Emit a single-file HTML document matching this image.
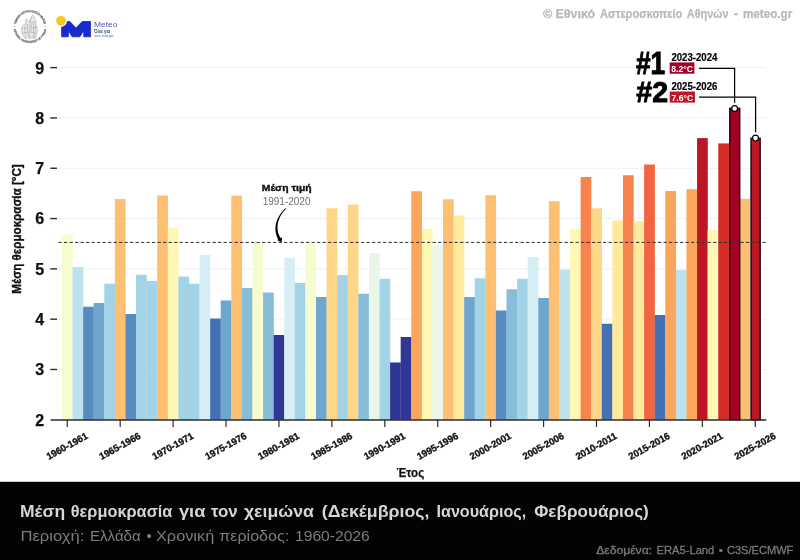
<!DOCTYPE html>
<html lang="el"><head><meta charset="utf-8"><title>Μέση θερμοκρασία χειμώνα</title>
<style>
html,body{margin:0;padding:0;background:#fff;}
body{width:800px;height:560px;overflow:hidden;font-family:"Liberation Sans",sans-serif;}
svg{display:block;font-family:"Liberation Sans",sans-serif;}
</style></head><body>
<svg width="800" height="560" viewBox="0 0 800 560" style="mix-blend-mode:multiply">
<rect x="0" y="0" width="800" height="560" fill="#ffffff"/>

<g stroke="#efefef" stroke-width="1">
<line x1="58" y1="369.49" x2="766" y2="369.49"/>
<line x1="58" y1="319.18" x2="766" y2="319.18"/>
<line x1="58" y1="268.87" x2="766" y2="268.87"/>
<line x1="58" y1="218.56" x2="766" y2="218.56"/>
<line x1="58" y1="168.25" x2="766" y2="168.25"/>
<line x1="58" y1="117.94" x2="766" y2="117.94"/>
<line x1="58" y1="67.63" x2="766" y2="67.63"/>
</g>
<g shape-rendering="auto">
<rect x="61.96" y="234.50" width="10.74" height="185.30" fill="#f7fcce"/>
<rect x="72.54" y="267.00" width="10.74" height="152.80" fill="#bde2ee"/>
<rect x="83.13" y="306.75" width="10.74" height="113.05" fill="#588cc0"/>
<rect x="93.71" y="303.00" width="10.74" height="116.80" fill="#6ea6ce"/>
<rect x="104.30" y="283.75" width="10.74" height="136.05" fill="#a3d3e6"/>
<rect x="114.88" y="199.00" width="10.74" height="220.80" fill="#fdbf71"/>
<rect x="125.47" y="314.00" width="10.74" height="105.80" fill="#588cc0"/>
<rect x="136.05" y="274.75" width="10.74" height="145.05" fill="#a3d3e6"/>
<rect x="146.64" y="281.00" width="10.74" height="138.80" fill="#a3d3e6"/>
<rect x="157.22" y="195.50" width="10.74" height="224.30" fill="#fdbf71"/>
<rect x="167.81" y="227.50" width="10.74" height="192.30" fill="#fff7b3"/>
<rect x="178.39" y="276.50" width="10.74" height="143.30" fill="#a3d3e6"/>
<rect x="188.98" y="283.75" width="10.74" height="136.05" fill="#a3d3e6"/>
<rect x="199.56" y="255.00" width="10.74" height="164.80" fill="#d6eef5"/>
<rect x="210.15" y="318.50" width="10.74" height="101.30" fill="#4471b2"/>
<rect x="220.73" y="300.50" width="10.74" height="119.30" fill="#6ea6ce"/>
<rect x="231.32" y="195.60" width="10.74" height="224.20" fill="#fdbf71"/>
<rect x="241.90" y="288.00" width="10.74" height="131.80" fill="#87bdd9"/>
<rect x="252.49" y="242.50" width="10.74" height="177.30" fill="#f7fcce"/>
<rect x="263.07" y="292.50" width="10.74" height="127.30" fill="#87bdd9"/>
<rect x="273.66" y="335.00" width="10.74" height="84.80" fill="#313695"/>
<rect x="284.24" y="258.00" width="10.74" height="161.80" fill="#d6eef5"/>
<rect x="294.83" y="283.00" width="10.74" height="136.80" fill="#a3d3e6"/>
<rect x="305.41" y="243.50" width="10.74" height="176.30" fill="#f7fcce"/>
<rect x="316.00" y="297.00" width="10.74" height="122.80" fill="#6ea6ce"/>
<rect x="326.58" y="208.25" width="10.74" height="211.55" fill="#fed687"/>
<rect x="337.17" y="275.00" width="10.74" height="144.80" fill="#a3d3e6"/>
<rect x="347.75" y="204.50" width="10.74" height="215.30" fill="#fed687"/>
<rect x="358.34" y="293.75" width="10.74" height="126.05" fill="#87bdd9"/>
<rect x="368.92" y="253.00" width="10.74" height="166.80" fill="#e9f6e8"/>
<rect x="379.51" y="278.75" width="10.74" height="141.05" fill="#a3d3e6"/>
<rect x="390.09" y="362.50" width="10.74" height="57.30" fill="#313695"/>
<rect x="400.68" y="337.00" width="10.74" height="82.80" fill="#313695"/>
<rect x="411.26" y="191.25" width="10.74" height="228.55" fill="#fca55d"/>
<rect x="421.85" y="228.75" width="10.74" height="191.05" fill="#fff7b3"/>
<rect x="432.43" y="245.00" width="10.74" height="174.80" fill="#e9f6e8"/>
<rect x="443.02" y="199.25" width="10.74" height="220.55" fill="#fdbf71"/>
<rect x="453.60" y="215.50" width="10.74" height="204.30" fill="#fee99d"/>
<rect x="464.19" y="297.00" width="10.74" height="122.80" fill="#6ea6ce"/>
<rect x="474.77" y="278.25" width="10.74" height="141.55" fill="#a3d3e6"/>
<rect x="485.36" y="195.25" width="10.74" height="224.55" fill="#fdbf71"/>
<rect x="495.94" y="310.50" width="10.74" height="109.30" fill="#588cc0"/>
<rect x="506.53" y="289.25" width="10.74" height="130.55" fill="#87bdd9"/>
<rect x="517.11" y="278.75" width="10.74" height="141.05" fill="#a3d3e6"/>
<rect x="527.70" y="257.00" width="10.74" height="162.80" fill="#d6eef5"/>
<rect x="538.28" y="298.00" width="10.74" height="121.80" fill="#6ea6ce"/>
<rect x="548.87" y="201.25" width="10.74" height="218.55" fill="#fdbf71"/>
<rect x="559.45" y="269.50" width="10.74" height="150.30" fill="#bde2ee"/>
<rect x="570.04" y="229.25" width="10.74" height="190.55" fill="#fff7b3"/>
<rect x="580.62" y="177.00" width="10.74" height="242.80" fill="#f7844e"/>
<rect x="591.21" y="208.25" width="10.74" height="211.55" fill="#fed687"/>
<rect x="601.79" y="323.75" width="10.74" height="96.05" fill="#4471b2"/>
<rect x="612.38" y="220.50" width="10.74" height="199.30" fill="#fee99d"/>
<rect x="622.96" y="175.25" width="10.74" height="244.55" fill="#f7844e"/>
<rect x="633.55" y="221.25" width="10.74" height="198.55" fill="#fee99d"/>
<rect x="644.13" y="164.50" width="10.74" height="255.30" fill="#f16640"/>
<rect x="654.72" y="315.00" width="10.74" height="104.80" fill="#4471b2"/>
<rect x="665.30" y="191.00" width="10.74" height="228.80" fill="#fca55d"/>
<rect x="675.89" y="270.00" width="10.74" height="149.80" fill="#bde2ee"/>
<rect x="686.47" y="189.25" width="10.74" height="230.55" fill="#fca55d"/>
<rect x="697.06" y="138.10" width="10.74" height="281.70" fill="#bd1726"/>
<rect x="707.64" y="230.00" width="10.74" height="189.80" fill="#fff7b3"/>
<rect x="718.23" y="143.40" width="10.74" height="276.40" fill="#d42d27"/>
<rect x="739.40" y="198.75" width="10.74" height="221.05" fill="#fdbf71"/>
<rect x="729.76" y="108.30" width="9.99" height="311.50" fill="#a50026" stroke="#1c0008" stroke-width="1.35"/>
<rect x="751.03" y="138.20" width="9.14" height="281.60" fill="#bd1726" stroke="#1c0008" stroke-width="1.35"/>
</g>
<line x1="58.5" y1="242.4" x2="766" y2="242.4" stroke="#2e2e2e" stroke-width="1" stroke-dasharray="3.3 2.2"/>
<g stroke="#2b2b2b" fill="none">
<line x1="50.6" y1="419.90" x2="766.3" y2="419.90" stroke-width="1.5"/>
<line x1="67.25" y1="419.80" x2="67.25" y2="427.00" stroke-width="1.2"/>
<line x1="120.18" y1="419.80" x2="120.18" y2="427.00" stroke-width="1.2"/>
<line x1="173.10" y1="419.80" x2="173.10" y2="427.00" stroke-width="1.2"/>
<line x1="226.03" y1="419.80" x2="226.03" y2="427.00" stroke-width="1.2"/>
<line x1="278.95" y1="419.80" x2="278.95" y2="427.00" stroke-width="1.2"/>
<line x1="331.88" y1="419.80" x2="331.88" y2="427.00" stroke-width="1.2"/>
<line x1="384.80" y1="419.80" x2="384.80" y2="427.00" stroke-width="1.2"/>
<line x1="437.73" y1="419.80" x2="437.73" y2="427.00" stroke-width="1.2"/>
<line x1="490.65" y1="419.80" x2="490.65" y2="427.00" stroke-width="1.2"/>
<line x1="543.58" y1="419.80" x2="543.58" y2="427.00" stroke-width="1.2"/>
<line x1="596.50" y1="419.80" x2="596.50" y2="427.00" stroke-width="1.2"/>
<line x1="649.43" y1="419.80" x2="649.43" y2="427.00" stroke-width="1.2"/>
<line x1="702.35" y1="419.80" x2="702.35" y2="427.00" stroke-width="1.2"/>
<line x1="755.28" y1="419.80" x2="755.28" y2="427.00" stroke-width="1.2"/>
<line x1="50.3" y1="369.49" x2="57" y2="369.49" stroke-width="1.4"/>
<line x1="50.3" y1="319.18" x2="57" y2="319.18" stroke-width="1.4"/>
<line x1="50.3" y1="268.87" x2="57" y2="268.87" stroke-width="1.4"/>
<line x1="50.3" y1="218.56" x2="57" y2="218.56" stroke-width="1.4"/>
<line x1="50.3" y1="168.25" x2="57" y2="168.25" stroke-width="1.4"/>
<line x1="50.3" y1="117.94" x2="57" y2="117.94" stroke-width="1.4"/>
<line x1="50.3" y1="67.63" x2="57" y2="67.63" stroke-width="1.4"/>
</g>
<g font-weight="bold" font-size="16px" fill="#111" stroke="#111" stroke-width="0.25" text-anchor="middle">
<text x="39.8" y="425.70">2</text>
<text x="39.8" y="375.39">3</text>
<text x="39.8" y="325.08">4</text>
<text x="39.8" y="274.77">5</text>
<text x="39.8" y="224.46">6</text>
<text x="39.8" y="174.15">7</text>
<text x="39.8" y="123.84">8</text>
<text x="39.8" y="73.53">9</text>
</g>
<g font-weight="bold" font-size="9.7px" fill="#111" stroke="#111" stroke-width="0.35" text-anchor="middle">
<text transform="translate(66.95,446) rotate(-29)" x="0" y="3.4" textLength="45.6" lengthAdjust="spacingAndGlyphs">1960-1961</text>
<text transform="translate(119.88,446) rotate(-29)" x="0" y="3.4" textLength="45.6" lengthAdjust="spacingAndGlyphs">1965-1966</text>
<text transform="translate(172.80,446) rotate(-29)" x="0" y="3.4" textLength="45.6" lengthAdjust="spacingAndGlyphs">1970-1971</text>
<text transform="translate(225.72,446) rotate(-29)" x="0" y="3.4" textLength="45.6" lengthAdjust="spacingAndGlyphs">1975-1976</text>
<text transform="translate(278.65,446) rotate(-29)" x="0" y="3.4" textLength="45.6" lengthAdjust="spacingAndGlyphs">1980-1981</text>
<text transform="translate(331.57,446) rotate(-29)" x="0" y="3.4" textLength="45.6" lengthAdjust="spacingAndGlyphs">1985-1986</text>
<text transform="translate(384.50,446) rotate(-29)" x="0" y="3.4" textLength="45.6" lengthAdjust="spacingAndGlyphs">1990-1991</text>
<text transform="translate(437.43,446) rotate(-29)" x="0" y="3.4" textLength="45.6" lengthAdjust="spacingAndGlyphs">1995-1996</text>
<text transform="translate(490.35,446) rotate(-29)" x="0" y="3.4" textLength="45.6" lengthAdjust="spacingAndGlyphs">2000-2001</text>
<text transform="translate(543.28,446) rotate(-29)" x="0" y="3.4" textLength="45.6" lengthAdjust="spacingAndGlyphs">2005-2006</text>
<text transform="translate(596.20,446) rotate(-29)" x="0" y="3.4" textLength="45.6" lengthAdjust="spacingAndGlyphs">2010-2011</text>
<text transform="translate(649.13,446) rotate(-29)" x="0" y="3.4" textLength="45.6" lengthAdjust="spacingAndGlyphs">2015-2016</text>
<text transform="translate(702.05,446) rotate(-29)" x="0" y="3.4" textLength="45.6" lengthAdjust="spacingAndGlyphs">2020-2021</text>
<text transform="translate(754.98,446) rotate(-29)" x="0" y="3.4" textLength="45.6" lengthAdjust="spacingAndGlyphs">2025-2026</text>
</g>
<text x="396.4" y="477.0" font-weight="bold" font-size="12.3px" fill="#111" stroke="#111" stroke-width="0.25" textLength="27.8" lengthAdjust="spacingAndGlyphs">Έτος</text>
<text transform="translate(20.7,229.0) rotate(-90)" font-weight="bold" font-size="12.3px" stroke="#111" stroke-width="0.35" fill="#111" text-anchor="middle" textLength="129.4" lengthAdjust="spacingAndGlyphs">Μέση θερμοκρασία [°C]</text>
<text x="286.7" y="190.9" font-weight="bold" font-size="9.6px" fill="#111" stroke="#111" stroke-width="0.4" text-anchor="middle" textLength="49.8" lengthAdjust="spacingAndGlyphs">Μέση τιμή</text>
<text x="286.6" y="204.6" font-size="10px" fill="#6c6c6c" text-anchor="middle">1991-2020</text>
<path d="M285.77 208.14 L284.68 209.10 L283.63 210.11 L282.63 211.18 L281.67 212.30 L280.77 213.46 L279.92 214.68 L279.13 215.93 L278.40 217.23 L277.75 218.56 L277.16 219.92 L276.65 221.32 L276.22 222.75 L275.88 224.20 L275.63 225.68 L275.47 227.18 L275.42 228.69 L275.47 230.22 L275.63 231.76 L275.90 233.31 L276.29 234.86 L276.81 236.41 L277.46 237.95 L278.23 239.48 L279.15 240.99 L281.45 239.41 L280.57 238.10 L279.81 236.78 L279.16 235.45 L278.62 234.11 L278.19 232.75 L277.87 231.39 L277.64 230.01 L277.52 228.64 L277.48 227.26 L277.54 225.89 L277.69 224.52 L277.93 223.15 L278.24 221.80 L278.64 220.46 L279.12 219.14 L279.66 217.84 L280.28 216.57 L280.96 215.32 L281.71 214.11 L282.51 212.94 L283.37 211.80 L284.28 210.71 L285.23 209.66 L286.23 208.66 Z" fill="#000"/>
<path d="M281.5 242.6 L277.2 239.9 L282.2 237.2 Z" fill="#000"/>
<g fill="none" stroke="#000" stroke-width="1.25">
<path d="M699 68.4 H734.6 V102.8"/>
<path d="M699 97 H755.6 V132.3"/>
</g>
<circle cx="734.6" cy="108.5" r="2.9" fill="#fff" stroke="#000" stroke-width="1.2"/>
<circle cx="755.5" cy="138.1" r="2.9" fill="#fff" stroke="#000" stroke-width="1.2"/>
<g font-weight="bold" fill="#000">
<text x="636" y="73.5" font-size="31px" stroke="#000" stroke-width="0.9" textLength="29.2" lengthAdjust="spacingAndGlyphs">#1</text>
<text x="636.3" y="102.2" font-size="30.4px" stroke="#000" stroke-width="0.9" textLength="31.8" lengthAdjust="spacingAndGlyphs">#2</text>
<text x="671.4" y="60.5" font-size="10.2px" textLength="46" lengthAdjust="spacingAndGlyphs" stroke="#000" stroke-width="0.2">2023-2024</text>
<text x="671.4" y="89.5" font-size="10.2px" textLength="46" lengthAdjust="spacingAndGlyphs" stroke="#000" stroke-width="0.2">2025-2026</text>
</g>
<rect x="669.7" y="62.4" width="24.7" height="11.3" fill="#a50026"/>
<rect x="669.7" y="91.5" width="25.3" height="11.1" fill="#bd1727"/>
<g font-weight="bold" font-size="8.6px" fill="#fff" text-anchor="middle">
<text x="682.1" y="71.5" textLength="21.8" lengthAdjust="spacingAndGlyphs">8.2°C</text>
<text x="682.4" y="100.5" textLength="21.8" lengthAdjust="spacingAndGlyphs">7.6°C</text>
</g>
<text x="542.90" y="17.8" textLength="9.30" lengthAdjust="spacingAndGlyphs" font-weight="bold" font-size="12.6px" fill="#b9b9b9" stroke="#b9b9b9" stroke-width="0.25">©</text>
<text x="555.40" y="17.8" textLength="39.70" lengthAdjust="spacingAndGlyphs" font-weight="bold" font-size="12.6px" fill="#b9b9b9" stroke="#b9b9b9" stroke-width="0.25">Εθνικό</text>
<text x="600.00" y="17.8" textLength="82.30" lengthAdjust="spacingAndGlyphs" font-weight="bold" font-size="12.6px" fill="#b9b9b9" stroke="#b9b9b9" stroke-width="0.25">Αστεροσκοπείο</text>
<text x="686.80" y="17.8" textLength="41.70" lengthAdjust="spacingAndGlyphs" font-weight="bold" font-size="12.6px" fill="#b9b9b9" stroke="#b9b9b9" stroke-width="0.25">Αθηνών</text>
<text x="733.80" y="17.8" textLength="4.60" lengthAdjust="spacingAndGlyphs" font-weight="bold" font-size="12.6px" fill="#b9b9b9" stroke="#b9b9b9" stroke-width="0.25">-</text>
<text x="742.90" y="17.8" textLength="49.30" lengthAdjust="spacingAndGlyphs" font-weight="bold" font-size="12.6px" fill="#b9b9b9" stroke="#b9b9b9" stroke-width="0.25">meteo.gr</text>
<g id="noa-seal" fill="none" stroke-linecap="round" stroke-linejoin="round">
<path id="sealTop" d="M15.9 26.4 A14.1 14.1 0 0 1 44.1 26.4" stroke="none"/>
<path id="sealBot" d="M13.4 26.4 A16.6 16.6 0 0 0 46.6 26.4" stroke="none"/>
<g font-weight="bold" font-size="3.05px" fill="#606060" stroke="#606060" stroke-width="0.18" opacity="0.95">
<text><textPath href="#sealTop" startOffset="2.6" textLength="39" lengthAdjust="spacingAndGlyphs">ΕΘΝΙΚΟΝ ΑΣΤΕΡΟΣΚΟΠΕΙΟΝ ΑΘΗΝΩΝ</textPath></text>
<text><textPath href="#sealBot" startOffset="3.2" textLength="45.6" lengthAdjust="spacingAndGlyphs">NATIONAL OBSERVATORY OF ATHENS</textPath></text>
</g>
<circle cx="14.7" cy="26.6" r="0.5" fill="#7c7c7c" stroke="none"/><circle cx="45.3" cy="26.6" r="0.5" fill="#7c7c7c" stroke="none"/>
<path d="M32.8 15 L34.9 17.6 L35.6 21.6 L37.4 27.6 L36.8 33.6 L35.2 39 L29.4 39.2 L24.2 38.4 L21.6 33.4 L21.3 28.2 L22.8 25 L25.4 23.2 L26 19.2 L27.4 21 L29.6 21.6 L30.8 18 Z" fill="#d9d9d9" stroke="none" opacity="0.55"/>
<g stroke="#8f8f8f" stroke-width="0.5" opacity="0.8">
<path d="M32.9 15.2 c1 0.5 1.4 1.5 1.1 2.5 c1.3 0.8 1.9 2.5 1.7 4.3 c-0.2 2.2 0.5 4.2 1.2 6.4 c0.6 2.3 0.3 4.7 -0.4 6.8 c-0.5 1.7 -1 3 -1.4 3.8"/>
<path d="M32.4 15.4 c-0.9 0.6 -1.2 1.6 -0.7 2.6 c-1.2 0.9 -1.8 2.3 -1.6 3.9 c0.2 1.8 -0.3 3.4 -1.1 5 c0.9 2.2 1.2 4.6 0.6 7 c-0.3 1.5 0 3.6 0.8 5"/>
<path d="M26.1 19.2 c-0.6 1.6 -0.8 3.1 -0.5 4.6 c-2 0.8 -3.5 2.4 -3.9 4.5 c-0.4 2.7 0.2 5.2 1.5 7.4 c0.9 1.6 2 2.5 3.4 2.9"/>
<path d="M25.7 23.9 c1.4 0.3 2.5 1 3.3 2.2 M22.6 28.6 c1.9 -0.7 3.7 -0.6 5.5 0.3 M22.6 33 c1.9 -0.8 3.9 -0.9 5.9 -0.2 M31 21.8 c1.3 0.6 2.6 0.6 3.9 -0.1 M30.6 27.2 c1.9 0.8 3.9 0.8 5.9 0 M30.8 32.4 c1.8 0.6 3.6 0.6 5.4 -0.1 M30.6 36.6 c1.5 0.5 3 0.5 4.5 0"/>
<path d="M27 24.6 l1.4 13.4 M24.6 26.4 l0.9 11.4 M33.4 22.6 l0.3 16 M31.4 24 l-0.6 8 M35.4 25 l-0.6 12"/>
<path d="M26.2 19 l1.4 2.2 l2 0.4 l1.2 -3.4"/>
</g>
</g>
<g id="meteo-logo">
<path d="M61.6 36.8 V21.5 H69.9 L76.05 27.9 L82.2 21.5 H90.6 V36.8 H83.7 V30.6 L80.0 36.8 H72.1 L68.4 30.6 V36.8 Z" fill="#1a2acb" stroke="#1a2acb" stroke-width="0.8" stroke-linejoin="round"/>
<circle cx="61" cy="20.8" r="6.1" fill="#ffffff"/>
<circle cx="61" cy="20.8" r="4.85" fill="#f9c623"/>
<text x="94.0" y="26.6" font-size="7.9px" fill="#4a57bd" textLength="23.5" lengthAdjust="spacingAndGlyphs">Meteo</text>
<text x="94.1" y="33.4" font-size="4.7px" font-weight="bold" fill="#3c4486" textLength="16.2" lengthAdjust="spacingAndGlyphs">Όλα για</text>
<text x="94.3" y="37.3" font-size="3.5px" fill="#5b67b8" textLength="19.4" lengthAdjust="spacingAndGlyphs">τον καιρό</text>
</g>

<rect x="0" y="481.8" width="800" height="78.2" fill="#030303"/>
<text x="19.90" y="517" textLength="45.20" lengthAdjust="spacingAndGlyphs" font-weight="bold" font-size="16.5px" fill="#d6d6d6">Μέση</text>
<text x="70.80" y="517" textLength="101.60" lengthAdjust="spacingAndGlyphs" font-weight="bold" font-size="16.5px" fill="#d6d6d6">θερμοκρασία</text>
<text x="178.90" y="517" textLength="26.50" lengthAdjust="spacingAndGlyphs" font-weight="bold" font-size="16.5px" fill="#d6d6d6">για</text>
<text x="210.90" y="517" textLength="26.80" lengthAdjust="spacingAndGlyphs" font-weight="bold" font-size="16.5px" fill="#d6d6d6">τον</text>
<text x="243.90" y="517" textLength="70.00" lengthAdjust="spacingAndGlyphs" font-weight="bold" font-size="16.5px" fill="#d6d6d6">χειμώνα</text>
<text x="321.80" y="517" textLength="107.60" lengthAdjust="spacingAndGlyphs" font-weight="bold" font-size="16.5px" fill="#d6d6d6">(Δεκέμβριος,</text>
<text x="436.50" y="517" textLength="89.70" lengthAdjust="spacingAndGlyphs" font-weight="bold" font-size="16.5px" fill="#d6d6d6">Ιανουάριος,</text>
<text x="534.30" y="517" textLength="114.50" lengthAdjust="spacingAndGlyphs" font-weight="bold" font-size="16.5px" fill="#d6d6d6">Φεβρουάριος)</text>
<text x="20.40" y="540.6" textLength="64.00" lengthAdjust="spacingAndGlyphs" font-size="15px" fill="#7d7d7d">Περιοχή:</text>
<text x="90.00" y="540.6" textLength="50.70" lengthAdjust="spacingAndGlyphs" font-size="15px" fill="#7d7d7d">Ελλάδα</text>
<text x="146.40" y="540.6" textLength="5.30" lengthAdjust="spacingAndGlyphs" font-size="15px" fill="#7d7d7d">•</text>
<text x="156.00" y="540.6" textLength="58.20" lengthAdjust="spacingAndGlyphs" font-size="15px" fill="#7d7d7d">Χρονική</text>
<text x="219.20" y="540.6" textLength="70.00" lengthAdjust="spacingAndGlyphs" font-size="15px" fill="#7d7d7d">περίοδος:</text>
<text x="295.10" y="540.6" textLength="74.60" lengthAdjust="spacingAndGlyphs" font-size="15px" fill="#7d7d7d">1960-2026</text>
<text x="596.20" y="554" textLength="55.90" lengthAdjust="spacingAndGlyphs" font-size="11.4px" fill="#7a7a7a" stroke="#7a7a7a" stroke-width="0.3">Δεδομένα:</text>
<text x="656.50" y="554" textLength="57.80" lengthAdjust="spacingAndGlyphs" font-size="11.4px" fill="#7a7a7a" stroke="#7a7a7a" stroke-width="0.3">ERA5-Land</text>
<text x="718.70" y="554" textLength="4.20" lengthAdjust="spacingAndGlyphs" font-size="11.4px" fill="#7a7a7a" stroke="#7a7a7a" stroke-width="0.3">•</text>
<text x="726.90" y="554" textLength="66.50" lengthAdjust="spacingAndGlyphs" font-size="11.4px" fill="#7a7a7a" stroke="#7a7a7a" stroke-width="0.3">C3S/ECMWF</text>
</svg>
</body></html>
